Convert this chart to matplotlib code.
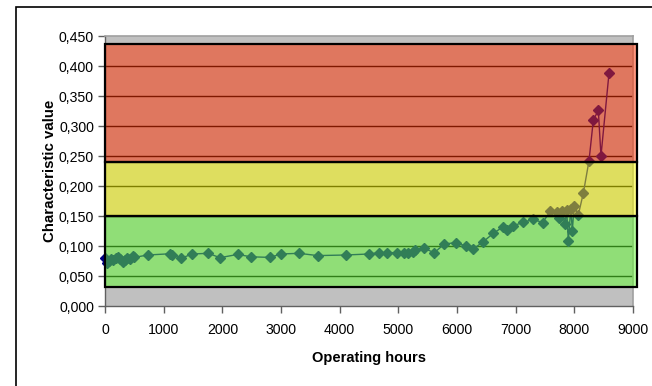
import matplotlib
matplotlib.use("Agg")
import matplotlib.pyplot as plt
from matplotlib.patches import Rectangle

plt.rcParams['font.family'] = ['Liberation Sans', 'DejaVu Sans']

hours = [0, 30, 60, 100, 140, 180, 220, 260, 300, 340, 380, 420, 470, 500,
         727, 1100, 1150, 1295, 1488, 1761, 1960, 2261, 2488, 2812, 3000,
         3307, 3625, 4100, 4505, 4675, 4801, 4975, 5105, 5160, 5245, 5284,
         5437, 5613, 5784, 5977, 6153, 6278, 6448, 6619, 6789, 6857, 6960,
         7130, 7300, 7460, 7590, 7700, 7744, 7790, 7840, 7870, 7897, 7940,
         7966, 7995, 8068, 8153, 8250, 8324, 8409, 8454, 8591]
values = [0.080, 0.072, 0.075, 0.078, 0.076, 0.080, 0.082, 0.079, 0.074,
          0.077, 0.080, 0.078, 0.083, 0.081,
          0.085, 0.087, 0.085, 0.0795, 0.0867, 0.0878, 0.0805, 0.086, 0.082,
          0.081, 0.0867, 0.0878, 0.084, 0.085, 0.0867, 0.0889, 0.0889,
          0.0889, 0.0889, 0.0889, 0.0906, 0.0933, 0.0961, 0.0889, 0.1033,
          0.1056, 0.100, 0.095, 0.1072, 0.1211, 0.1322, 0.1267, 0.1339,
          0.1394, 0.1444, 0.139, 0.158, 0.157, 0.146, 0.158, 0.136, 0.160,
          0.109, 0.162, 0.125, 0.166, 0.152, 0.188, 0.242, 0.310, 0.326,
          0.250, 0.388]

# limit bands: (lower, upper, rgb)
band_low = [0.031, 0.150, 0.240]
band_high = [0.150, 0.240, 0.437]
band_colors = [(98/255, 252/255, 48/255), (252/255, 252/255, 0.0), (1.0, 48/255, 0.0)]
band_x_end = 9070

x_ticks = [0, 1000, 2000, 3000, 4000, 5000, 6000, 7000, 8000, 9000]
y_ticks = [0.0, 0.05, 0.10, 0.15, 0.20, 0.25, 0.30, 0.35, 0.40, 0.45]

fig = plt.figure(figsize=(6.52, 3.86), dpi=100)
# outer chart frame
fig.patches.append(Rectangle((16/652, -0.05), 1.1, (386-7)/386 + 0.05,
                             transform=fig.transFigure, fill=False,
                             edgecolor='black', linewidth=1.2))

ax = fig.add_axes([105/652, (386-306)/386, (633-105)/652, (306-36)/386])
ax.set_facecolor('#c0c0c0')
ax.set_xlim(0, 9000)
ax.set_ylim(0, 0.45)

for y in y_ticks[1:-1]:
    ax.axhline(y, color='black', linewidth=1.0, zorder=1)

ax.plot(hours, values, color='#000080', marker='D', markersize=5.3,
        linewidth=1.0, zorder=2, clip_on=False)

for lo, hi, c in zip(band_low, band_high, band_colors):
    ax.add_patch(Rectangle((0, lo), band_x_end, hi - lo,
                           facecolor=(c[0], c[1], c[2], 0.5),
                           edgecolor='black', linewidth=1.6,
                           zorder=3, clip_on=False))

ax.set_xticks(x_ticks)
ax.set_xticklabels([str(v) for v in x_ticks])
ax.set_yticks(y_ticks)
ax.set_yticklabels([f"{v:.3f}".replace('.', ',') for v in y_ticks])
ax.tick_params(axis='both', direction='out', length=5, width=1,
               color='#606060', labelsize=10.2, labelcolor='black')
ax.tick_params(axis='x', pad=7)
ax.tick_params(axis='y', pad=3)

for s in ['left', 'bottom']:
    ax.spines[s].set_color('#606060')
    ax.spines[s].set_linewidth(1)
for s in ['top', 'right']:
    ax.spines[s].set_color('#a0a0a0')
    ax.spines[s].set_linewidth(1.2)

ax.set_xlabel('Operating hours', fontsize=10.5, fontweight='bold', labelpad=10)
ax.set_ylabel('Characteristic value', fontsize=10.8, fontweight='bold', labelpad=1)

fig.savefig('out.png', dpi=100)
